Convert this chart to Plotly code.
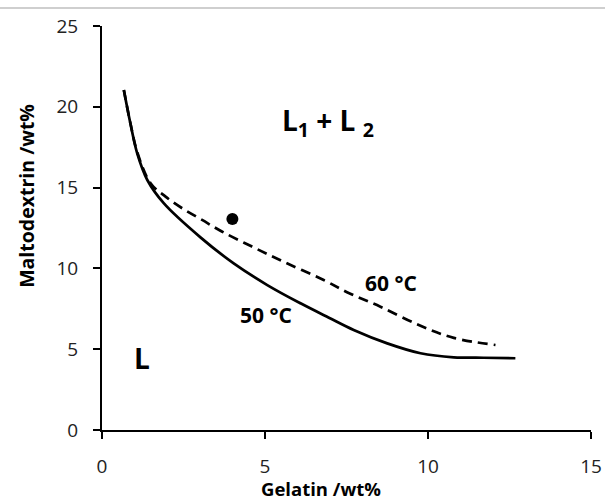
import plotly.graph_objects as go

# 50 °C binodal (solid)
x50 = [0.67, 0.87, 1.08, 1.39, 1.9, 3.02, 4.04, 5.07, 6.09, 6.96, 7.72, 8.75, 9.77, 10.79, 11.7, 12.68]
y50 = [21.04, 18.98, 17.12, 15.47, 14.02, 11.92, 10.31, 8.97, 7.84, 6.95, 6.19, 5.36, 4.75, 4.5, 4.47, 4.44]

# 60 °C binodal (dashed)
x60 = [0.67, 0.87, 1.08, 1.49, 1.95, 2.46, 3.07, 3.69, 4.6, 5.58, 6.8, 7.6, 8.54, 9.77, 10.79, 12.07]
y60 = [21.04, 19.0, 17.2, 15.27, 14.44, 13.72, 13.0, 12.27, 11.35, 10.4, 9.28, 8.45, 7.63, 6.45, 5.7, 5.26]

# sample point
xpt = [4.0]
ypt = [13.05]

x_ticks = [0, 5, 10, 15]
y_ticks = [0, 5, 10, 15, 20, 25]

FONT = "Open Sans"

fig = go.Figure()
fig.add_trace(go.Scatter(x=x50, y=y50, mode="lines",
                         line=dict(color="black", width=2.7, shape="spline", smoothing=1.0),
                         showlegend=False))
fig.add_trace(go.Scatter(x=x60, y=y60, mode="lines",
                         line=dict(color="black", width=2.7, dash="10px,6px", shape="spline", smoothing=1.0),
                         showlegend=False))
fig.add_trace(go.Scatter(x=xpt, y=ypt, mode="markers", marker=dict(color="black", size=12),
                         showlegend=False))

annos = [
    dict(x=1.22, y=4.46, text="<b>L</b>", size=28),
    dict(x=6.93, y=19.06, text="<b>L<sub>1</sub> + L <sub>2</sub></b>", size=28),
    dict(x=5.04, y=7.1, text="<b>50 °C</b>", size=21),
    dict(x=8.85, y=9.1, text="<b>60 °C</b>", size=21),
]
for a in annos:
    fig.add_annotation(x=a["x"], y=a["y"], text=a["text"], showarrow=False,
                       xanchor="center", yanchor="middle",
                       font=dict(family=FONT, size=a["size"], color="black"))

fig.add_annotation(x=0.4484, y=-0.145, xref="paper", yref="paper", text="<b>Gelatin /wt%</b>",
                   showarrow=False, xanchor="center", yanchor="middle",
                   font=dict(family=FONT, size=18.5, color="black"))
fig.add_annotation(x=-0.156, y=0.579, xref="paper", yref="paper", text="<b>Maltodextrin /wt%</b>",
                   showarrow=False, xanchor="center", yanchor="middle", textangle=-90,
                   font=dict(family=FONT, size=19.5, color="black"))

fig.add_shape(type="line", xref="paper", yref="paper", x0=-0.21, x1=1.05, y0=1.0446, y1=1.0446,
              line=dict(color="#cfcfcf", width=2))

axis_common = dict(showgrid=False, zeroline=False, showline=True, linecolor="black", linewidth=2,
                   ticks="outside", ticklen=7, tickwidth=2, tickcolor="black", automargin=False,
                   tickfont=dict(family=FONT, size=19, color="#222"), ticklabelstandoff=11)

fig.update_xaxes(range=[0, 15], tickvals=x_ticks, **axis_common)
fig.update_yaxes(range=[0, 25], tickvals=y_ticks, **axis_common)

fig.update_layout(width=605, height=501, margin=dict(l=101.5, r=14, t=26, b=71),
                  plot_bgcolor="white", paper_bgcolor="white")

fig.write_html("out.html", config={"displayModeBar": False},
               post_script="document.body.style.margin='0';document.body.style.overflow='hidden';")
